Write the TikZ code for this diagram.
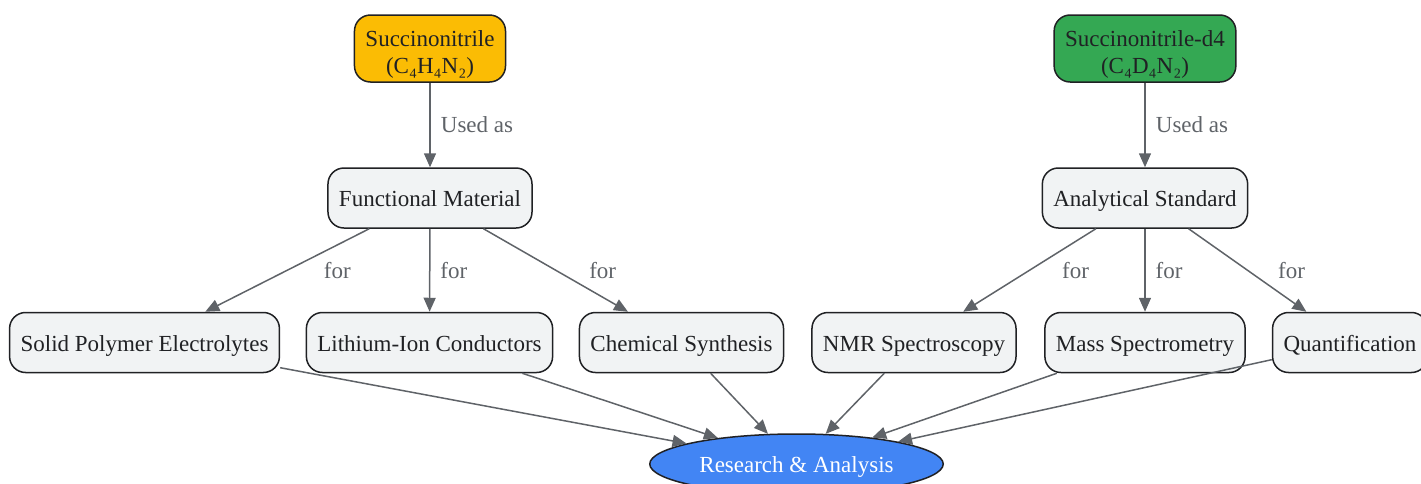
\documentclass[tikz,border=0pt]{standalone}
\usepackage{fontspec}
\setmainfont{Liberation Serif}
\usetikzlibrary{arrows.meta,shapes.geometric}

\definecolor{nitrileyellow}{HTML}{FBBC04}
\definecolor{nitrilegreen}{HTML}{34A853}
\definecolor{analysisblue}{HTML}{4285F4}
\definecolor{boxgray}{HTML}{F1F3F4}
\definecolor{edgegray}{HTML}{5F6368}
\definecolor{textdark}{HTML}{202124}

\tikzset{
	box/.style={draw=textdark, line width=0.75pt, rounded corners=8pt, fill=boxgray,
		text=textdark, align=center, inner xsep=5.5pt, minimum height=30pt,
		text height=0.9em, text depth=0.05em, font=\fontsize{11.5}{13.5}\selectfont},
	topbox/.style={box, minimum height=33.5pt, text height=25pt, text depth=0pt},
	goal/.style={ellipse, draw=textdark, line width=0.75pt, fill=analysisblue, text=white,
		minimum width=145.5pt, minimum height=30pt, text height=0.9em, text depth=0.05em,
		font=\fontsize{11.5}{13.5}\selectfont},
	link/.style={draw=edgegray, line width=0.75pt, -{Triangle[length=7pt,width=6pt]}},
	lbl/.style={text=edgegray, font=\fontsize{11.5}{13.5}\selectfont}
}

\begin{document}
\begin{tikzpicture}[x=0.5pt, y=-0.5pt]
	
	%The frame of the picture
	\useasboundingbox (0,0) rectangle (1421,483);

	%The two compounds
	\node[topbox, fill=nitrileyellow] (sn) at (430,48.5) {Succinonitrile\\(C₄H₄N₂)};
	\node[topbox, fill=nitrilegreen] (snd) at (1145,48.5) {Succinonitrile-d4\\(C₄D₄N₂)};

	%What they are used as
	\node[box] (func) at (430,198) {Functional Material};
	\node[box] (std) at (1145,198) {Analytical Standard};

	%The uses
	\node[box] (spe) at (144.5,342.5) {Solid Polymer Electrolytes};
	\node[box] (lic) at (429.5,342.5) {Lithium-Ion Conductors};
	\node[box] (chem) at (681.5,342.5) {Chemical Synthesis};
	\node[box] (nmr) at (914,342.5) {NMR Spectroscopy};
	\node[box] (ms) at (1145,342.5) {Mass Spectrometry};
	\node[box] (quant) at (1350,342.5) {Quantification};

	\node[goal] (res) at (796.5,464) {Research \& Analysis};

	%The connectors
	\draw[link] (sn) -- node[lbl, xshift=23.5pt] {Used as} (func);
	\draw[link] (snd) -- node[lbl, xshift=23.5pt] {Used as} (std);

	\draw[link] (func) -- node[lbl, xshift=25pt] {for} (spe);
	\draw[link] (func) -- node[lbl, xshift=12pt] {for} (lic);
	\draw[link] (func) -- node[lbl, xshift=23.5pt] {for} (chem);
	\draw[link] (std) -- node[lbl, xshift=23pt] {for} (nmr);
	\draw[link] (std) -- node[lbl, xshift=12pt] {for} (ms);
	\draw[link] (std) -- node[lbl, xshift=22pt] {for} (quant);

	\foreach \u in {spe,lic,chem,nmr,ms,quant}
		\draw[link] (\u) -- (res);

\end{tikzpicture}
\end{document}
